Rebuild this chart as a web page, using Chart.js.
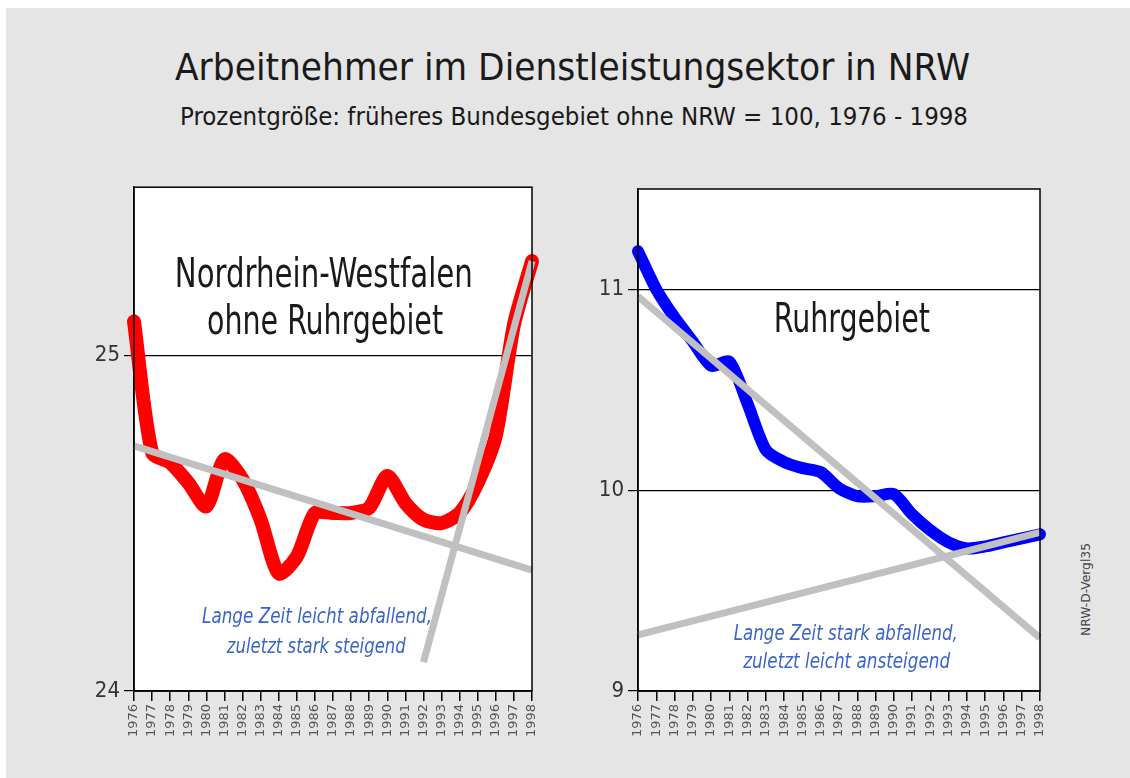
<!DOCTYPE html>
<html>
<head>
<meta charset="utf-8">
<script src="https://cdn.jsdelivr.net/npm/chart.js@4"></script>
<style>
  html, body { margin:0; padding:0; background:#ffffff; }
  body { width:1130px; height:778px; position:relative; overflow:hidden; }
  #bg { position:absolute; left:6px; top:8px; right:0; bottom:0; background:#e5e5e5; }
  .txt { position:absolute; white-space:nowrap; font-family:'Liberation Sans Narrow','DejaVu Sans Condensed',sans-serif; color:#1a1a1a; transform-origin:0 0; }
  #title { font-size:38px; line-height:38px; top:48px; }
  #subtitle { font-size:24px; line-height:24px; top:105px; }
  #side { font-size:12px; line-height:12px; color:#444; }
  canvas { position:absolute; }
</style>
</head>
<body>
<div id="bg"></div>
<div id="title" class="txt">Arbeitnehmer im Dienstleistungsektor in NRW</div>
<div id="subtitle" class="txt">Prozentgröße: früheres Bundesgebiet ohne NRW = 100, 1976 - 1998</div>
<div id="side" class="txt">NRW-D-Vergl35</div>
<canvas id="c1" width="500" height="600" style="left:60px;top:170px;"></canvas>
<canvas id="c2" width="500" height="600" style="left:570px;top:170px;"></canvas>
<script>
// ---- data ----
const years = ['1976','1977','1978','1979','1980','1981','1982','1983','1984','1985','1986','1987','1988','1989','1990','1991','1992','1993','1994','1995','1996','1997','1998'];
const nrwOhneRuhr = [25.10, 24.71, 24.68, 24.62, 24.55, 24.69, 24.63, 24.51, 24.35, 24.40, 24.53, 24.53, 24.53, 24.545, 24.64, 24.56, 24.51, 24.50, 24.53, 24.62, 24.76, 25.09, 25.28];
const ruhrgebiet = [11.19, 11.00, 10.86, 10.74, 10.62, 10.64, 10.43, 10.20, 10.14, 10.11, 10.09, 10.01, 9.97, 9.97, 9.98, 9.88, 9.80, 9.74, 9.71, 9.72, 9.74, 9.76, 9.78];
const leftTrendLong = [{x:'1976', y:24.73}, {x:'1998', y:24.36}];
const leftTrendRecent = [{x:'1992', y:24.086}, {x:'1998', y:25.28}];
const rightTrendLong = [{x:'1976', y:10.965}, {x:'1998', y:9.264}];
const rightTrendRecent = [{x:'1976', y:9.28}, {x:'1998', y:9.79}];
const leftYTicks = [24, 25];
const rightYTicks = [9, 10, 11];

const NARROW = "'Liberation Sans Narrow','DejaVu Sans Condensed',sans-serif";

function fitHtml(id, left, width) {
  const el = document.getElementById(id);
  const w = el.getBoundingClientRect().width;
  el.style.left = left + 'px';
  el.style.transform = 'scaleX(' + (width / w) + ')';
}
fitHtml('title', 175, 795);
fitHtml('subtitle', 180, 788);
(function(){
  const el = document.getElementById('side');
  const w = el.getBoundingClientRect().width;
  el.style.left = '1080px';
  el.style.top = '636px';
  el.style.transform = 'rotate(-90deg) scaleX(' + (93 / w) + ')';
})();

function drawFit(ctx, text, cx, baseline, targetW, font, color) {
  ctx.save();
  ctx.font = font;
  const w = ctx.measureText(text).width;
  ctx.translate(cx, baseline);
  ctx.scale(targetW / w, 1);
  ctx.fillStyle = color;
  ctx.textAlign = 'center';
  ctx.textBaseline = 'alphabetic';
  ctx.fillText(text, 0, 0);
  ctx.restore();
}

const framePlugin = {
  id: 'frame',
  beforeDraw(chart) {
    const {ctx, chartArea:a} = chart;
    ctx.save();
    ctx.fillStyle = '#ffffff';
    ctx.fillRect(a.left, a.top, a.right - a.left, a.bottom - a.top);
    ctx.restore();
  },
  afterDatasetsDraw(chart) {
    const {ctx, chartArea:a} = chart;
    ctx.save();
    ctx.strokeStyle = '#000';
    ctx.lineWidth = 1.5;
    ctx.strokeRect(a.left, a.top, a.right - a.left, a.bottom - a.top);
    ctx.restore();
  },
  afterDraw(chart, args, opts) {
    const {ctx, chartArea:a} = chart;
    const W = a.right - a.left, H = a.bottom - a.top;
    (opts.texts || []).forEach(t => {
      drawFit(ctx, t.text, a.left + t.fx * W, a.top + t.fy * H, t.w, t.font, t.color);
    });
  }
};

function makeChart(id, series, color, width, trends, ymin, ymax, yticks, yWidth, pad, texts) {
  const datasets = trends.map(tr => ({
    data: tr, borderColor:'#c0c0c0', borderWidth:7, pointRadius:0, tension:0,
    borderCapStyle:'butt', clip:false
  }));
  datasets.push({
    data: series, borderColor: color, borderWidth: width, pointRadius:0, tension:0.25,
    borderJoinStyle:'round', borderCapStyle:'round', clip:false
  });
  return new Chart(document.getElementById(id), {
    type:'line',
    data:{ labels: years, datasets },
    plugins:[framePlugin],
    options:{
      responsive:false, animation:false,
      layout:{ padding: pad },
      plugins:{ legend:{display:false}, tooltip:{enabled:false}, frame:{ texts } },
      scales:{
        x:{
          type:'category', offset:false,
          grid:{ drawOnChartArea:false, drawTicks:true, tickLength:10, color:'#000', lineWidth:1.5 },
          border:{ color:'#000', width:1.5 },
          ticks:{ autoSkip:false, maxRotation:90, minRotation:90, padding:3, color:'#555',
                  font:{ family:'DejaVu Sans', size:13 } },
          afterFit(a){ a.height = 79; }
        },
        y:{
          min:ymin, max:ymax,
          afterBuildTicks(a){ a.ticks = yticks.map(v => ({value:v})); },
          grid:{ color:'#000', lineWidth:1.2, tickLength:10 },
          border:{ color:'#000', width:1.5 },
          ticks:{ padding:4, color:'#333', font:{ family:NARROW, size:22 } },
          afterFit(a){ a.width = yWidth; }
        }
      }
    }
  });
}

const blackFont = "40px " + NARROW;
const blueFont = "italic 22px " + NARROW;
const blue = '#3b64c8';

makeChart('c1', nrwOhneRuhr, '#ff0000', 14, [leftTrendLong, leftTrendRecent], 24, 25.5, leftYTicks, 74,
  {left:0, top:15, right:28, bottom:0},
  [
    {text:'Nordrhein-Westfalen', fx:0.477, fy:0.198, w:298, font:blackFont, color:'#1a1a1a'},
    {text:'ohne Ruhrgebiet', fx:0.48, fy:0.292, w:236, font:blackFont, color:'#1a1a1a'},
    {text:'Lange Zeit leicht abfallend,', fx:0.46, fy:0.866, w:230, font:blueFont, color:blue},
    {text:'zuletzt stark steigend', fx:0.458, fy:0.925, w:179, font:blueFont, color:blue}
  ]);

makeChart('c2', ruhrgebiet, '#0000ff', 12, [rightTrendLong, rightTrendRecent], 9, 11.5, rightYTicks, 68,
  {left:0, top:19, right:30, bottom:0},
  [
    {text:'Ruhrgebiet', fx:0.532, fy:0.285, w:156, font:blackFont, color:'#1a1a1a'},
    {text:'Lange Zeit stark abfallend,', fx:0.517, fy:0.898, w:224, font:blueFont, color:blue},
    {text:'zuletzt leicht ansteigend', fx:0.519, fy:0.954, w:207, font:blueFont, color:blue}
  ]);
</script>
</body>
</html>
